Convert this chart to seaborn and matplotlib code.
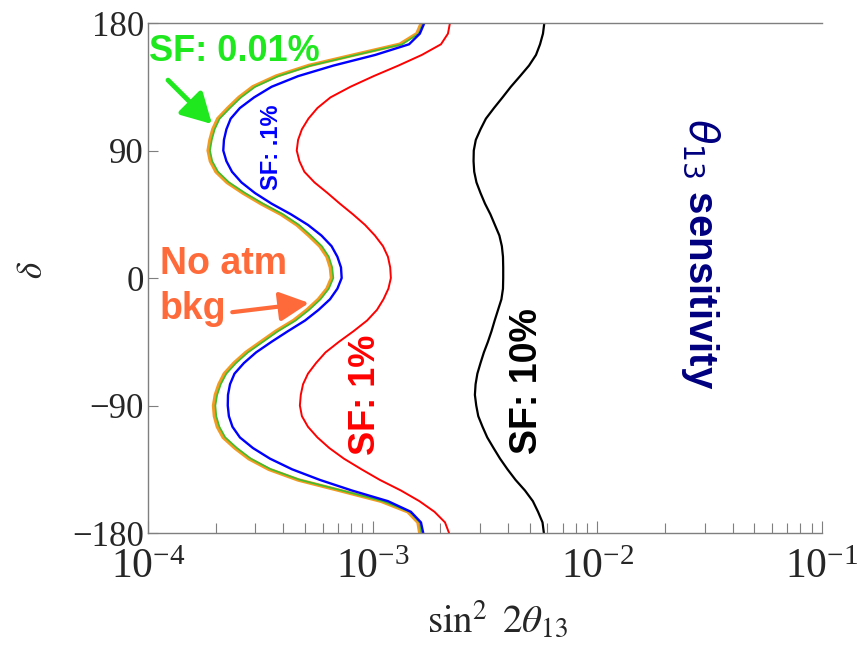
import matplotlib
matplotlib.use("Agg")
import matplotlib.pyplot as plt
import numpy as np
import pandas as pd
import seaborn as sns

# CP phase (degrees) at which each contour is sampled, every 7.5 degrees
DELTA = [180, 172.5, 165, 157.5, 150, 142.5, 135, 127.5, 120, 112.5, 105, 97.5,
         90, 82.5, 75, 67.5, 60, 52.5, 45, 37.5, 30, 22.5, 15, 7.5,
         0, -7.5, -15, -22.5, -30, -37.5, -45, -52.5, -60, -67.5, -75, -82.5,
         -90, -97.5, -105, -112.5, -120, -127.5, -135, -142.5, -150, -157.5,
         -165, -172.5, -180]

# log10(sin^2 2theta13) reach of each contour, one value per DELTA entry
NO_ATM_BKG = [-2.783, -2.803, -2.879, -3.083, -3.284, -3.430, -3.533, -3.595,
              -3.644, -3.689, -3.711, -3.724, -3.732, -3.722, -3.697, -3.648,
              -3.577, -3.497, -3.408, -3.337, -3.284, -3.235, -3.203, -3.188,
              -3.183, -3.203, -3.241, -3.292, -3.352, -3.430, -3.497, -3.564,
              -3.617, -3.660, -3.684, -3.700, -3.708, -3.704, -3.691, -3.665,
              -3.613, -3.551, -3.462, -3.332, -3.146, -2.963, -2.843, -2.798,
              -2.790]
SF_0_01 = [-2.776, -2.795, -2.869, -3.073, -3.274, -3.420, -3.523, -3.586,
           -3.635, -3.681, -3.703, -3.716, -3.724, -3.714, -3.688, -3.639,
           -3.568, -3.488, -3.399, -3.328, -3.275, -3.226, -3.195, -3.180,
           -3.175, -3.195, -3.232, -3.283, -3.343, -3.421, -3.488, -3.555,
           -3.608, -3.651, -3.676, -3.692, -3.700, -3.696, -3.682, -3.656,
           -3.604, -3.542, -3.453, -3.323, -3.137, -2.955, -2.835, -2.791,
           -2.783]
SF_0_1 = [-2.770, -2.790, -2.838, -2.988, -3.174, -3.332, -3.450, -3.528,
          -3.591, -3.632, -3.651, -3.662, -3.665, -3.651, -3.626, -3.584,
          -3.524, -3.450, -3.364, -3.288, -3.228, -3.183, -3.157, -3.141,
          -3.138, -3.157, -3.190, -3.241, -3.301, -3.377, -3.450, -3.519,
          -3.573, -3.615, -3.635, -3.644, -3.645, -3.640, -3.624, -3.591,
          -3.533, -3.457, -3.359, -3.235, -3.092, -2.932, -2.830, -2.785,
          -2.775]
SF_1 = [-2.656, -2.665, -2.696, -2.781, -2.885, -2.996, -3.099, -3.188,
        -3.246, -3.286, -3.315, -3.332, -3.338, -3.326, -3.304, -3.259,
        -3.201, -3.146, -3.088, -3.034, -2.990, -2.954, -2.932, -2.922,
        -2.919, -2.930, -2.952, -2.981, -3.025, -3.085, -3.150, -3.210,
        -3.252, -3.288, -3.310, -3.320, -3.324, -3.315, -3.288, -3.246,
        -3.193, -3.128, -3.050, -2.968, -2.874, -2.792, -2.725, -2.678,
        -2.660]
SF_10 = [-2.236, -2.242, -2.255, -2.273, -2.304, -2.344, -2.385, -2.422,
         -2.460, -2.496, -2.520, -2.541, -2.550, -2.551, -2.548, -2.538,
         -2.520, -2.500, -2.476, -2.456, -2.436, -2.425, -2.420, -2.419,
         -2.419, -2.420, -2.427, -2.442, -2.457, -2.471, -2.487, -2.505,
         -2.520, -2.534, -2.542, -2.545, -2.539, -2.530, -2.511, -2.490,
         -2.462, -2.433, -2.400, -2.364, -2.322, -2.287, -2.264, -2.244,
         -2.238]

X_TICKS = [1e-4, 1e-3, 1e-2, 1e-1]
Y_TICKS = [-180, -90, 0, 90, 180]

sns.set_theme(style="ticks")
plt.rcParams["font.family"] = ["Liberation Serif", "DejaVu Serif"]
plt.rcParams["mathtext.fontset"] = "stix"

curves = [
    ("No atm bkg", NO_ATM_BKG, "#F39A22", 2.6),
    ("SF: 0.01%", SF_0_01, "#3DBE2C", 1.2),
    ("SF: .1%", SF_0_1, "#0000FF", 1.7),
    ("SF: 1%", SF_1, "#FF0000", 1.4),
    ("SF: 10%", SF_10, "#000000", 1.6),
]
df = pd.concat(
    [pd.DataFrame({"s2": np.power(10.0, vals), "delta": DELTA, "curve": name})
     for name, vals, _, _ in curves],
    ignore_index=True,
)

fig = plt.figure(figsize=(8.63, 6.45), dpi=100)
ax = fig.add_axes([0.1715, 0.1736, 0.781, 0.7907])
ax.set_xscale("log")

for name, _, color, lw in curves:
    sns.lineplot(data=df[df["curve"] == name], x="s2", y="delta",
                 sort=False, estimator=None, orient="y",
                 color=color, linewidth=lw, ax=ax, legend=False)

ax.set_xlim(1e-4, 1e-1)
ax.set_ylim(-180, 180)
ax.set_xticks(X_TICKS)
ax.set_yticks(Y_TICKS)
ax.set_yticklabels([str(v).replace("-", "\u2212") for v in Y_TICKS])

spine_color = "#7f7f7f"
for side in ("left", "bottom", "top"):
    ax.spines[side].set_color(spine_color)
    ax.spines[side].set_linewidth(1.0)
ax.spines["right"].set_visible(False)

ax.tick_params(axis="both", which="both", direction="in", color=spine_color,
               width=0.8)
ax.tick_params(axis="x", which="major", length=9, labelsize=30, pad=11)
ax.tick_params(axis="x", which="minor", length=7)
ax.tick_params(axis="y", which="major", length=7, labelsize=25, pad=3)
ax.tick_params(axis="y", which="minor", length=0)

ax.set_xlabel(r"$\sin^2\ 2\theta_{13}$", fontsize=28)
ax.xaxis.label.set_va("bottom")
ax.xaxis.set_label_coords(0.518, -0.214)
ax.set_ylabel(r"$\delta$", fontsize=25, rotation=90)
ax.yaxis.set_label_coords(-0.146, 0.516)

sans_bold = dict(family=["Liberation Sans", "DejaVu Sans"], weight="bold")

ax.text(0.002, 0.945, "SF: 0.01%", color="#1FE81F", fontsize=26,
        ha="left", va="center", transform=ax.transAxes, **sans_bold)
ax.annotate("", xy=(1.926e-4, 108.7), xycoords="data",
            xytext=(0.0297, 0.888), textcoords="axes fraction",
            arrowprops=dict(arrowstyle="-|>,head_length=0.9,head_width=0.5",
                            color="#1FE81F", lw=3.5, mutation_scale=20,
                            shrinkA=0, shrinkB=0))

ax.text(0.0178, 0.562, "No atm\nbkg", color="#FF6A3A", fontsize=27,
        ha="left", va="top", linespacing=1.3, transform=ax.transAxes,
        **sans_bold)
ax.annotate("", xy=(5.205e-4, -17.6), xycoords="data",
            xytext=(0.125, 0.433), textcoords="axes fraction",
            arrowprops=dict(arrowstyle="-|>,head_length=0.9,head_width=0.45",
                            color="#FF6A3A", lw=3.0, mutation_scale=20,
                            shrinkA=0, shrinkB=0))

ax.text(0.1825, 0.757, "SF: .1%", color="#0000FF", fontsize=17,
        rotation=90, ha="center", va="center", transform=ax.transAxes,
        **sans_bold)
ax.text(0.322, 0.2706, "SF: 1%", color="#FF0000", fontsize=26,
        rotation=90, ha="center", va="center", transform=ax.transAxes,
        **sans_bold)
ax.text(0.5623, 0.298, "SF: 10%", color="#000000", fontsize=27,
        rotation=90, ha="center", va="center", transform=ax.transAxes,
        **sans_bold)
ax.text(0.819, 0.547, r"$\theta_{13}$ sensitivity", color="#00007F",
        fontsize=29, rotation=270, ha="center", va="center",
        transform=ax.transAxes, math_fontfamily="dejavusans", **sans_bold)

fig.savefig("out.png", dpi=100)
